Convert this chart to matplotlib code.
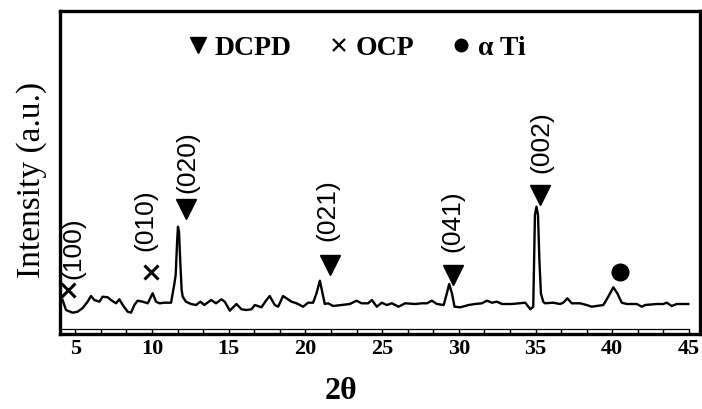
import matplotlib
matplotlib.use("Agg")
import matplotlib.pyplot as plt
from matplotlib.lines import Line2D
from matplotlib.ticker import MultipleLocator
import numpy as np

# XRD pattern (2theta in degrees, intensity in arbitrary units)
two_theta = [4.17, 4.39, 4.82, 5.15, 5.48, 5.80, 6.02, 6.24, 6.57, 6.78, 7.11, 7.32,
             7.65, 7.87, 8.09, 8.41, 8.63, 8.85, 9.06, 9.39, 9.72, 10.04, 10.26, 10.48,
             10.81, 11.24, 11.46, 11.54, 11.64, 11.69, 11.76, 11.84, 11.93, 12.00, 12.21,
             12.54, 12.87, 13.15, 13.41, 13.85, 14.17, 14.52, 14.74, 15.07, 15.50, 15.83,
             16.15, 16.48, 16.70, 17.13, 17.46, 17.67, 18.00, 18.22, 18.54, 18.76, 19.09,
             19.42, 19.85, 20.17, 20.50, 20.72, 20.94, 21.11, 21.26, 21.48, 21.80, 22.35,
             22.89, 23.33, 23.66, 24.09, 24.33, 24.65, 24.98, 25.31, 25.63, 26.07, 26.50,
             27.15, 27.59, 27.92, 28.24, 28.57, 29.01, 29.22, 29.37, 29.55, 29.72, 30.09,
             30.64, 31.07, 31.50, 31.83, 32.16, 32.48, 32.81, 33.46, 33.90, 34.33, 34.66,
             34.85, 34.96, 35.06, 35.16, 35.25, 35.35, 35.50, 35.61, 36.15, 36.59, 36.81,
             37.07, 37.36, 37.90, 38.33, 38.66, 38.99, 39.42, 39.74, 40.07, 40.33, 40.62,
             40.95, 41.60, 41.93, 42.15, 42.90, 43.33, 43.55, 43.88, 44.20, 44.96]
intensity = [33.5, 23.5, 20.8, 21.8, 25.5, 31.8, 37.5, 33.5, 31.8, 36.8, 36.2, 33.5,
             30.2, 34.2, 28.5, 21.8, 20.8, 28.5, 32.8, 31.8, 30.2, 40.2, 31.8, 30.2,
             30.8, 30.8, 50.2, 58.5, 93.5, 106.8, 101.5, 71.5, 43.5, 36.8, 31.8,
             29.5, 28.5, 31.8, 28.5, 33.5, 30.2, 34.2, 31.8, 22.8, 29.5, 24.2,
             23.5, 24.2, 28.5, 26.2, 33.5, 37.5, 28.5, 26.8, 37.5, 35.2, 31.8,
             30.2, 26.8, 30.8, 30.8, 40.2, 52.8, 40.2, 29.5, 30.2, 27.5, 28.5,
             29.5, 32.8, 30.2, 30.2, 33.5, 26.8, 30.8, 28.5, 30.2, 26.8, 30.2,
             29.5, 30.2, 30.2, 32.8, 29.5, 28.5, 40.2, 49.5, 40.2, 26.8, 26.2,
             28.5, 29.5, 30.2, 32.8, 30.8, 31.8, 29.5, 29.5, 30.2, 30.8, 24.2,
             26.8, 118.5, 126.8, 118.5, 73.5, 40.0, 31.8, 30.2, 30.8, 29.5, 30.8,
             35.2, 30.2, 30.2, 28.5, 26.8, 27.5, 28.5, 36.8, 46.2, 40.2, 30.8,
             29.5, 29.5, 26.8, 28.5, 29.5, 29.5, 30.8, 27.5, 29.5, 29.5]

# phase markers and (hkl) labels
dcpd_x = [12.24, 21.59, 29.59, 35.29]
dcpd_y = [125, 68.5, 58.5, 138.5]
dcpd_hkl = ['(020)', '(021)', '(041)', '(002)']
dcpd_hkl_x = [12.29, 21.46, 29.55, 35.35]
dcpd_hkl_y = [171, 123.5, 112.5, 191]

ocp_x = [4.5, 9.96]
ocp_y = [43.5, 61.8]
ocp_hkl = ['(100)', '(010)']
ocp_hkl_x = [4.9, 9.59]
ocp_hkl_y = [85.5, 113.5]

ti_x = [40.51]
ti_y = [61.8]

serif = 'Liberation Serif'
sans = 'Liberation Sans'

fig = plt.figure(figsize=(7.02, 4.09), dpi=100)
ax = fig.add_axes([60 / 702, 1 - 333.5 / 409, 640 / 702, 322.5 / 409])

ax.plot(two_theta, intensity, color='black', lw=1.7)

ax.plot(dcpd_x, dcpd_y, 'v', color='black', ms=14, ls='none')
ax.plot(ocp_x, ocp_y, 'x', color='black', ms=10, mew=2.2, ls='none')
ax.plot(ti_x, ti_y, 'o', color='black', ms=12, ls='none')

for x, y, t in zip(dcpd_hkl_x + ocp_hkl_x, dcpd_hkl_y + ocp_hkl_y, dcpd_hkl + ocp_hkl):
    ax.text(x, y, t, rotation=90, ha='center', va='center', fontsize=19, family=sans)

ax.set_xlim(4.0, 45.72)
ax.set_ylim(0, 322.5)

# tick bar along the bottom
ax.plot([4.0, 45], [0.0155, 0.0155], color='black', lw=0.9,
        transform=ax.get_xaxis_transform(), clip_on=False)

ax.xaxis.set_major_locator(MultipleLocator(5))
ax.xaxis.set_minor_locator(MultipleLocator(5 / 3))
ax.tick_params(axis='x', which='both', direction='in', length=3.6, width=1.0, pad=4)
ax.tick_params(axis='y', left=False, labelleft=False)
for lab in ax.get_xticklabels():
    lab.set_family(serif)
    lab.set_fontweight('bold')
    lab.set_fontsize(16)

for s in ax.spines.values():
    s.set_linewidth(2.4)

ax.set_xlabel('2θ', family=serif, fontweight='bold', fontsize=23)
ax.xaxis.set_label_coords(0.439, -0.181)
ax.xaxis.label.set_va('center')
ax.set_ylabel('Intensity (a.u.)', family=serif, fontsize=24)
ax.yaxis.set_label_coords(-0.045, 0.476)
ax.yaxis.label.set_va('center')

handles = [Line2D([], [], marker='v', ls='none', color='black', ms=11),
           Line2D([], [], marker='x', ls='none', color='black', ms=8, mew=1.6),
           Line2D([], [], marker='o', ls='none', color='black', ms=9)]
ax.legend(handles, ['DCPD', 'OCP', 'α Ti'], ncol=3, frameon=False, loc='center',
          bbox_to_anchor=(0.465, 0.885), handlelength=0.6, handletextpad=0.3,
          columnspacing=1.4, prop={'family': serif, 'weight': 'bold', 'size': 20})

fig.savefig('out.png', dpi=100)
